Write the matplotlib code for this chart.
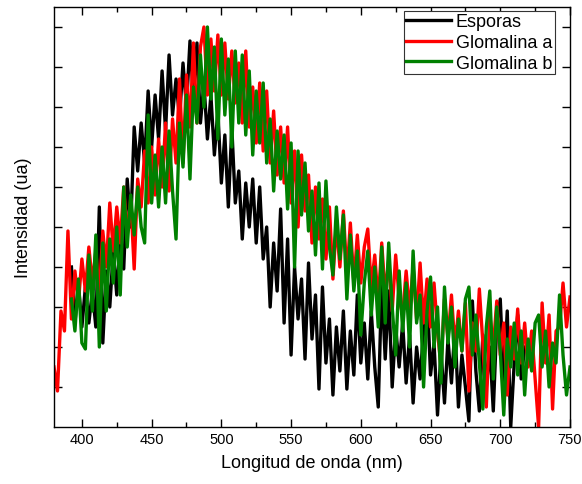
import numpy as np
import matplotlib
matplotlib.use("Agg")
import matplotlib.pyplot as plt
from matplotlib.ticker import MultipleLocator

# emission spectra (arbitrary units), step 2.5 nm
step = 2.5

# Glomalina a, 380 .. 750 nm
red_start = 380.0
glom_a = [1.5, 0.9, 2.9, 2.4, 4.9, 2.7, 3.9, 3.1, 4.2, 3.4,
          4.5, 3.6, 4.4, 3.3, 4.9, 4.0, 5.6, 4.4, 5.5, 4.6,
          6.0, 4.8, 5.7, 3.95, 6.2, 5.5, 6.9, 5.6, 7.0, 5.8,
          7.2, 6.0, 7.6, 5.9, 7.7, 6.6, 8.7, 6.6, 8.8, 7.5,
          9.6, 7.6, 9.5, 10.0, 8.3, 9.7, 8.4, 9.8, 8.3, 9.6,
          8.2, 9.4, 8.1, 9.1, 7.6, 9.4, 7.5, 8.5, 7.1, 8.6,
          6.9, 8.4, 6.6, 7.9, 6.3, 7.5, 6.1, 7.5, 5.6, 6.9,
          5.0, 6.8, 5.4, 6.3, 4.6, 6.0, 4.7, 5.7, 4.2, 5.5,
          3.7, 5.1, 4.0, 5.4, 3.8, 5.1, 3.6, 4.8, 3.6, 4.5,
          4.95, 3.5, 4.3, 3.1, 4.6, 3.3, 4.2, 2.9, 4.3, 3.2,
          2.8, 3.9, 2.9, 4.0, 2.7, 4.1, 2.6, 3.7, 2.5, 3.6,
          2.4, 1.5, 3.2, 2.2, 3.3, 2.0, 2.9, 1.9, 3.1, 0.9,
          2.6, 1.9, 3.45, 2.1, 0.5, 2.8, 2.0, 3.15, 1.8, 2.6,
          0.8, 2.5, 1.7, 2.95, 1.6, 2.6, 1.5, 2.4, 1.2, 0.0,
          3.1, 1.6, 2.8, 0.45, 2.4, 2.5, 3.6, 2.5, 3.25]

# Esporas, 392.5 .. 717.5 nm
black_start = 392.5
esporas = [4.0, 2.6, 3.6, 2.5, 3.5, 2.6, 3.4, 2.5, 5.5, 2.1,
           3.9, 3.0, 4.4, 3.3, 4.8, 3.95, 6.2, 5.0, 7.5, 6.4,
           7.6, 6.6, 8.4, 7.0, 8.3, 7.2, 8.9, 7.4, 9.3, 7.8,
           8.7, 7.7, 9.1, 8.0, 9.65, 8.2, 9.6, 7.6, 8.6, 7.2,
           8.3, 6.8, 7.9, 6.1, 7.3, 5.5, 7.5, 5.6, 6.4, 4.7,
           6.1, 5.0, 6.2, 4.6, 6.0, 4.2, 5.0, 3.0, 4.6, 3.4,
           5.45, 2.6, 4.7, 1.8, 4.0, 2.7, 3.7, 1.7, 4.1, 2.2,
           3.3, 0.95, 3.5, 1.6, 2.7, 0.8, 2.5, 1.4, 2.9, 0.95,
           2.4, 1.3, 3.3, 1.6, 2.6, 1.2, 2.9, 1.5, 0.5, 3.6,
           1.7, 3.4, 1.0, 2.5, 1.5, 2.6, 1.1, 2.3, 0.6, 2.0,
           1.2, 2.4, 3.4, 1.3, 2.1, 0.3, 1.9, 0.6, 2.2, 1.1,
           2.5, 0.5, 1.8, 1.0, 0.15, 3.15, 1.4, 0.4, 2.3, 1.0,
           2.0, 0.4, 2.6, 3.2, 1.1, 2.9, 0.0, 1.6, 2.8, 1.2,
           2.0]

# Glomalina b, 392.5 .. 750 nm
green_start = 392.5
glom_b = [3.2, 2.4, 3.7, 2.1, 1.95, 4.3, 2.9, 4.8, 2.0, 4.6,
          2.9, 4.7, 3.6, 5.0, 3.3, 6.0, 4.5, 5.8, 4.8, 6.0,
          5.0, 4.6, 7.8, 5.6, 6.8, 5.5, 7.0, 5.6, 7.4, 5.9,
          4.7, 7.6, 6.5, 8.3, 6.2, 8.5, 7.6, 9.3, 8.0, 10.0,
          8.2, 9.5, 7.2, 9.7, 7.8, 9.2, 7.0, 9.4, 7.6, 9.3,
          7.3, 8.9, 6.8, 8.4, 7.1, 8.6, 6.6, 7.7, 5.9, 7.4,
          6.2, 7.3, 5.45, 7.1, 4.0, 6.9, 5.3, 6.6, 4.9, 5.9,
          4.3, 6.1, 3.95, 6.15, 4.5, 3.8, 5.5, 4.2, 5.3, 3.2,
          4.8, 3.4, 4.4, 2.3, 3.6, 4.4, 2.8, 4.0, 2.5, 4.5,
          2.6, 4.6, 3.0, 1.8, 3.9, 2.4, 3.6, 2.0, 4.4, 2.6,
          3.3, 1.0, 2.9, 3.75, 2.0, 3.0, 1.1, 3.5, 2.1, 3.0,
          1.5, 2.7, 1.9, 3.2, 3.5, 1.8, 2.8, 1.6, 0.45, 2.5,
          3.4, 1.2, 3.0, 1.9, 0.3, 2.2, 1.5, 2.6, 1.3, 2.4,
          0.8, 2.2, 1.4, 2.6, 2.8, 1.5, 2.4, 1.0, 2.1, 1.6,
          3.3, 1.8, 0.8, 1.5]

wl_a = red_start + step * np.arange(len(glom_a))
wl_e = black_start + step * np.arange(len(esporas))
wl_b = green_start + step * np.arange(len(glom_b))

plt.rcParams['font.family'] = ['Liberation Sans', 'DejaVu Sans']

fig = plt.figure(figsize=(5.82, 4.85), dpi=100)
ax = fig.add_axes([54/582, 57/485, 516/582, 420/485])

ax.plot(wl_e, esporas, color='black', lw=2.4, label='Esporas')
ax.plot(wl_a, glom_a, color='#ff0000', lw=2.4, label='Glomalina a')
ax.plot(wl_b, glom_b, color='#008000', lw=2.4, label='Glomalina b')

ax.set_xlim(380, 750)
ax.set_ylim(0, 10.5)
ax.xaxis.set_major_locator(MultipleLocator(50))
ax.xaxis.set_minor_locator(MultipleLocator(25))
ax.set_yticks(np.arange(1, 11))
ax.set_yticklabels([])
ax.tick_params(which='major', direction='in', length=6, width=1,
               top=True, right=True, labelsize=10.5)
ax.tick_params(which='minor', direction='in', length=3.5, width=1,
               top=True, right=True)
for s in ax.spines.values():
    s.set_linewidth(1)

ax.set_xlabel('Longitud de onda (nm)', fontsize=13, labelpad=6)
ax.set_ylabel('Intensidad (ua)', fontsize=13, labelpad=12)

leg = ax.legend(loc='upper right', bbox_to_anchor=(0.971, 0.991),
                borderaxespad=0, fontsize=13, fancybox=False,
                edgecolor='#333333', framealpha=1, borderpad=0.15,
                handlelength=2.5, handletextpad=0.25, labelspacing=0.2)
leg.get_frame().set_linewidth(0.8)

fig.savefig('out.png', dpi=100)
